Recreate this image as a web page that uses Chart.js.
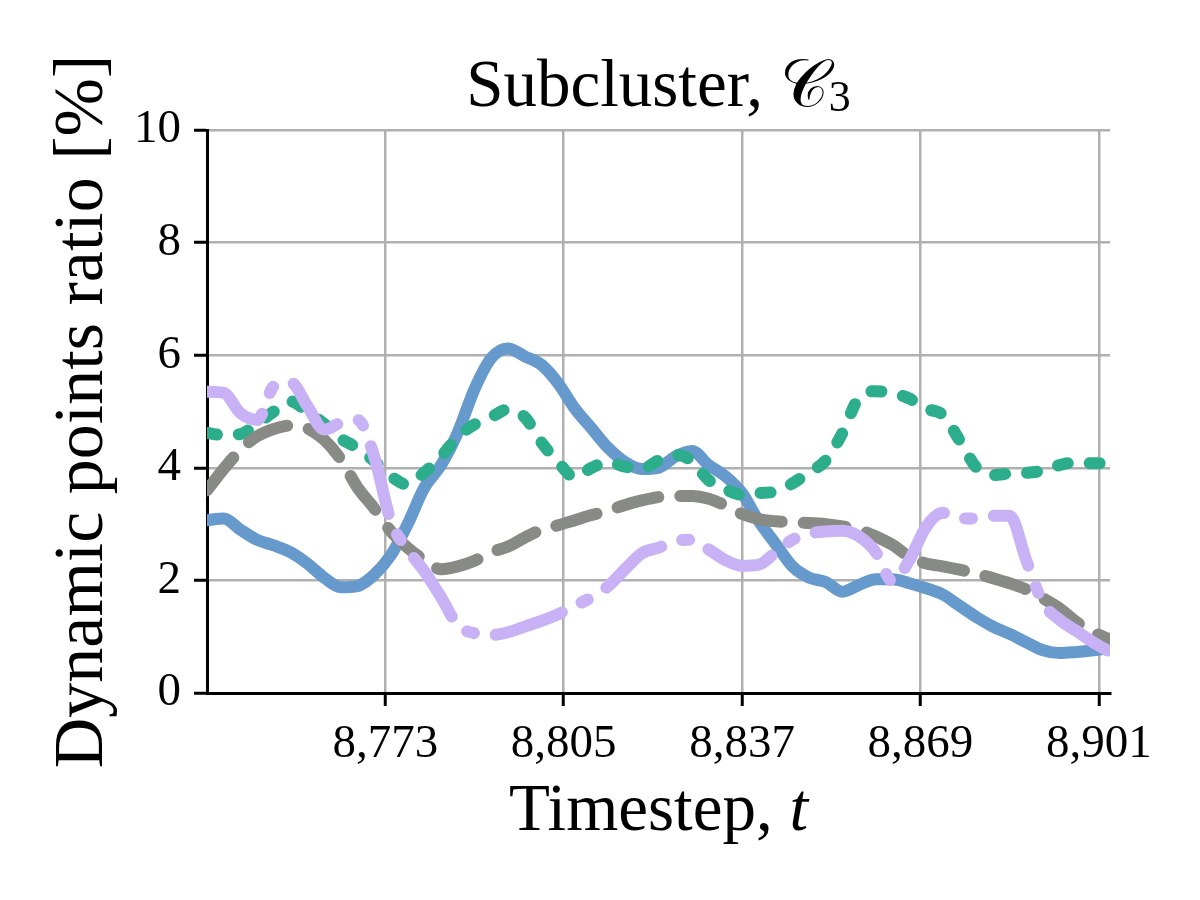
<!DOCTYPE html>
<html>
<head>
<meta charset="utf-8">
<script src="https://cdn.jsdelivr.net/npm/chart.js@4.4.1/dist/chart.umd.min.js"></script>
<style>
  body { margin: 0; background: #fff; }
  #wrap { width: 1200px; height: 900px; }
</style>
</head>
<body>
<div id="wrap"><canvas id="myChart" width="1200" height="900"></canvas></div>
<script>
// timesteps (every 3rd step)
const timesteps = [8741, 8744, 8747, 8750, 8753, 8756, 8759, 8762, 8765, 8768, 8771,
  8774, 8777, 8780, 8783, 8786, 8789, 8792, 8795, 8798, 8801, 8804, 8807, 8810,
  8813, 8816, 8819, 8822, 8825, 8828, 8831, 8834, 8837, 8840, 8843, 8846, 8849,
  8852, 8855, 8858, 8861, 8864, 8867, 8870, 8873, 8876, 8879, 8882, 8885, 8888,
  8891, 8894, 8897, 8900, 8903];

const blueValues = [3.07, 3.10, 2.90, 2.72, 2.62, 2.50, 2.30, 2.05, 1.88, 1.90, 2.10,
  2.45, 3.00, 3.65, 4.05, 4.63, 5.40, 5.95, 6.12, 5.98, 5.83, 5.50, 5.05, 4.70,
  4.35, 4.10, 3.98, 4.00, 4.20, 4.30, 4.05, 3.85, 3.55, 3.05, 2.65, 2.25, 2.05,
  1.97, 1.80, 1.92, 2.02, 2.02, 1.95, 1.86, 1.75, 1.55, 1.35, 1.18, 1.05, 0.90,
  0.76, 0.71, 0.73, 0.76, 0.80];

const greenValues = [4.62, 4.58, 4.60, 4.78, 5.00, 5.18, 5.00, 4.78, 4.52, 4.35, 4.12,
  3.85, 3.70, 3.92, 4.20, 4.55, 4.77, 4.90, 5.04, 4.90, 4.45, 4.10, 3.83, 4.00,
  4.10, 4.02, 3.98, 4.13, 4.23, 4.12, 3.78, 3.62, 3.52, 3.55, 3.58, 3.72, 3.92,
  4.13, 4.62, 5.25, 5.36, 5.33, 5.23, 5.05, 4.94, 4.49, 4.01, 3.87, 3.90, 3.91,
  3.95, 4.05, 4.10, 4.08, 4.08];

const grayValues = [3.60, 3.98, 4.32, 4.56, 4.69, 4.75, 4.70, 4.50, 4.15, 3.65, 3.28,
  2.87, 2.58, 2.36, 2.20, 2.25, 2.35, 2.50, 2.60, 2.76, 2.90, 2.98, 3.07, 3.16,
  3.24, 3.34, 3.42, 3.48, 3.50, 3.50, 3.45, 3.33, 3.18, 3.09, 3.05, 3.03, 3.02,
  3.00, 2.96, 2.90, 2.78, 2.63, 2.42, 2.30, 2.25, 2.19, 2.12, 2.04, 1.95, 1.84,
  1.68, 1.50, 1.26, 1.08, 0.95];

const purpleValues = [5.35, 5.33, 4.97, 4.85, 5.45, 5.52, 5.10, 4.68, 4.80, 4.85, 4.20,
  3.05, 2.55, 2.16, 1.70, 1.20, 1.06, 1.03, 1.08, 1.18, 1.28, 1.40, 1.55, 1.70,
  1.90, 2.20, 2.48, 2.58, 2.70, 2.72, 2.55, 2.36, 2.26, 2.28, 2.50, 2.72, 2.83,
  2.87, 2.88, 2.78, 2.50, 1.98, 2.36, 2.95, 3.20, 3.10, 3.10, 3.15, 3.15, 2.35,
  1.60, 1.30, 1.10, 0.90, 0.73];

const xTicks = [8773, 8805, 8837, 8869, 8901];

function pts(vals) {
  return vals.map((v, i) => ({ x: timesteps[i], y: v }));
}

const serif = '"Liberation Serif", "DejaVu Serif", serif';

// titles with mixed fonts (italic t, script C)
const textPlugin = {
  id: 'texts',
  afterDraw(chart) {
    const ctx = chart.ctx;
    const area = chart.chartArea;
    const cx = (area.left + area.right) / 2;
    const cy = (area.top + area.bottom) / 2;

    function runs(parts, x, y) {
      let total = 0;
      parts.forEach(p => { ctx.font = p[1]; p.w = ctx.measureText(p[0]).width; total += p.w; });
      let left = x - total / 2;
      parts.forEach(p => {
        ctx.font = p[1];
        ctx.fillText(p[0], left, y + (p[2] || 0));
        left += p.w;
      });
    }

    ctx.save();
    ctx.fillStyle = '#000';
    ctx.textAlign = 'left';
    ctx.textBaseline = 'alphabetic';
    runs([['Subcluster, ', '67px ' + serif],
          ['\u{1D49E}', '67px ' + serif + ', "DejaVu Sans", "Noto Sans"'],
          ['3', '44px ' + serif, 5]], cx, 106);
    runs([['Timestep, ', '67px ' + serif], ['t', 'italic 67px ' + serif]], cx, 830);
    ctx.restore();

    ctx.save();
    ctx.fillStyle = '#000';
    ctx.translate(84, cy);
    ctx.rotate(-Math.PI / 2);
    ctx.textAlign = 'center';
    ctx.textBaseline = 'middle';
    ctx.font = '70px ' + serif;
    ctx.fillText('Dynamic points ratio [%]', 0, 0);
    ctx.restore();
  }
};

const tickFont = { family: '"Liberation Serif", serif', size: 47 };
const gridOpts = { color: "#b0b0b0", lineWidth: 2.5, tickColor: "#000", tickLength: 13, tickWidth: 3 };

new Chart("myChart", {
  type: "line",
  data: {
    datasets: [
      { data: pts(purpleValues), borderColor: "#c8b2f5", borderWidth: 12,
        borderDash: [70, 22, 7, 22], borderCapStyle: "round" },
      { data: pts(grayValues), borderColor: "#888a85", borderWidth: 12,
        borderDash: [42, 22], borderCapStyle: "round" },
      { data: pts(greenValues), borderColor: "#2cae8c", borderWidth: 12,
        borderDash: [10, 22], borderCapStyle: "round" },
      { data: pts(blueValues), borderColor: "#6699cc", borderWidth: 12,
        borderCapStyle: "round" }
    ]
  },
  options: {
    responsive: false,
    animation: false,
    devicePixelRatio: 1,
    layout: { padding: { top: 130, right: 90, left: 0, bottom: 0 } },
    elements: {
      point: { radius: 0 },
      line: { cubicInterpolationMode: "monotone", borderJoinStyle: "round" }
    },
    plugins: {
      legend: { display: false },
      tooltip: { enabled: false }
    },
    scales: {
      x: {
        type: "linear",
        min: 8741,
        max: 8903,
        afterBuildTicks: (scale) => { scale.ticks = xTicks.map(v => ({ value: v })); },
        afterFit: (scale) => { scale.height = 207; },
        ticks: {
          color: "#000",
          font: tickFont,
          padding: 10,
          maxRotation: 0,
          callback: (v) => v.toLocaleString("en-US")
        },
        grid: gridOpts,
        border: { color: "#000", width: 3 }
      },
      y: {
        min: 0,
        max: 10,
        afterFit: (scale) => { scale.width = 207; },
        ticks: { stepSize: 2, color: "#000", font: tickFont, padding: 13 },
        grid: gridOpts,
        border: { color: "#000", width: 3 }
      }
    }
  },
  plugins: [textPlugin]
});
</script>
</body>
</html>
